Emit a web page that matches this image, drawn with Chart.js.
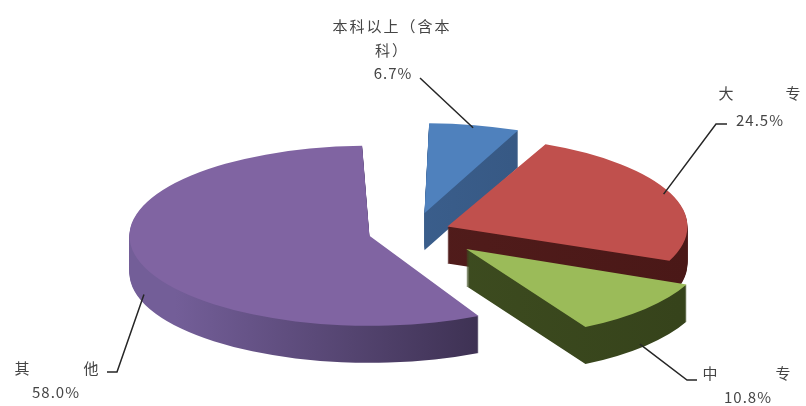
<!DOCTYPE html>
<html>
<head>
<meta charset="utf-8">
<script src="https://cdn.jsdelivr.net/npm/chart.js@4.4.1/dist/chart.umd.min.js"></script>
<style>
    html, body { margin: 0; padding: 0; background: #fff; }
    #wrap { width: 806px; height: 406px; position: relative; }
</style>
</head>
<body>
<div id="wrap"><canvas id="myChart"></canvas></div>
<script>
const categories = ['本科以上（含本科）', '大专', '中专', '其他'];
const shares = [6.7, 24.5, 10.8, 58.0];
const topColors = ['#4F81BD', '#C0504D', '#9BBB59', '#8064A2'];
const sideColors = [['#41689a', '#33537c'], ['#561f1e', '#4a1817'], ['#435323', '#36431b'], ['#735e98', '#2f2540']];
const explode = [200, 144, 280, 184];

const TILT = 0.375;   // vertical squash of the pie
const DEPTH = 37;     // thickness of the 3d rim

// where the label text sits and how the leader bends
const labelBoxes = [
    { nameAt: [[392, 26], [392, 50]], split: 'wrap', valueAt: [393, 73], leader: [[420, 78]] },
    { nameAt: [[726, 93], [793, 93]], split: 'chars', valueAt: [760, 120], leader: [[716, 124], [727, 124]] },
    { nameAt: [[710, 373], [783, 373]], split: 'chars', valueAt: [748, 397], leader: [[687, 380], [697, 380]] },
    { nameAt: [[22, 368], [91, 368]], split: 'chars', valueAt: [56, 392], leader: [[117, 372], [107, 372]] },
];

function squash(ctx, arc) {
    ctx.translate(arc.x, arc.y);
    ctx.scale(1, TILT);
    ctx.translate(-arc.x, -arc.y);
}

// chart.js grows exploded slices a little, undo that so all share one radius
function radiusFix(arc) {
    const off = (arc.options.offset || 0) / 4;
    return off * (1 - Math.sin(Math.min(Math.PI, arc.circumference)));
}

const pie3d = {
    id: 'pie3d',
    afterDatasetsUpdate(chart) {
        chart.getDatasetMeta(0).data.forEach(arc => {
            arc.outerRadius -= radiusFix(arc);
        });
    },
    beforeDatasetsDraw(chart) {
        const ctx = chart.ctx;
        const arcs = chart.getDatasetMeta(0).data;
        const mid = a => (a.startAngle + a.endAngle) / 2;
        // draw the back slices' sides first
        const order = arcs.map((a, i) => i).sort((i, j) => Math.sin(mid(arcs[i])) - Math.sin(mid(arcs[j])));
        order.forEach(i => {
            const arc = arcs[i];
            const opts = arc.options;
            const g = ctx.createLinearGradient(arc.x - arc.outerRadius, 0, arc.x + arc.outerRadius, 0);
            g.addColorStop(0, sideColors[i][0]);
            g.addColorStop(1, sideColors[i][1]);
            arc.options = Object.assign({}, opts, { backgroundColor: g, borderColor: g, borderWidth: 0 });
            for (let k = DEPTH; k >= 1; k--) {
                ctx.save();
                ctx.translate(0, k);
                squash(ctx, arc);
                arc.draw(ctx);
                ctx.restore();
            }
            arc.options = opts;
        });
        ctx.save();
        squash(ctx, arcs[0]);
    },
    afterDatasetsDraw(chart) {
        chart.ctx.restore();
    },
    afterDraw(chart) {
        const ctx = chart.ctx;
        const arcs = chart.getDatasetMeta(0).data;
        ctx.save();
        arcs.forEach((arc, i) => {
            const box = labelBoxes[i];
            const m = (arc.startAngle + arc.endAngle) / 2;
            const off = (arc.options.offset || 0) / 4;
            const r = (arc.outerRadius + radiusFix(arc)) * 0.97 + off;
            let ax = arc.x + Math.cos(m) * r;
            let ay = arc.y + Math.sin(m) * r * TILT;
            if (Math.sin(m) > 0) ay += DEPTH;

            ctx.strokeStyle = '#262626';
            ctx.lineWidth = 1.5;
            ctx.beginPath();
            ctx.moveTo(ax, ay);
            box.leader.forEach(p => ctx.lineTo(p[0], p[1]));
            ctx.stroke();

            ctx.fillStyle = '#454545';
            ctx.textAlign = 'center';
            ctx.textBaseline = 'middle';
            ctx.font = '15px "Noto Sans CJK SC"';
            const name = categories[i];
            let parts;
            if (box.split === 'wrap') parts = [name.slice(0, 7), name.slice(7)];
            else parts = name.split('');
            parts.forEach((t, k) => {
                ctx.letterSpacing = box.split === 'wrap' ? '2px' : '0px';
                ctx.fillText(t, box.nameAt[k][0], box.nameAt[k][1]);
            });
            ctx.letterSpacing = '1px';
            ctx.fillText(shares[i].toFixed(1) + '%', box.valueAt[0], box.valueAt[1]);
        });
        ctx.restore();
    }
};

new Chart(document.getElementById('myChart'), {
    type: 'pie',
    data: {
        labels: categories,
        datasets: [{
            data: shares,
            backgroundColor: topColors,
            borderWidth: 0,
            offset: explode,
            clip: false,
        }]
    },
    options: {
        responsive: true,
        maintainAspectRatio: false,
        animation: false,
        events: [],
        radius: 240,
        layout: { padding: { left: 22, top: 57, right: 0, bottom: 0 } },
        plugins: {
            legend: { display: false },
            tooltip: { enabled: false }
        }
    },
    plugins: [pie3d]
});
</script>
</body>
</html>
